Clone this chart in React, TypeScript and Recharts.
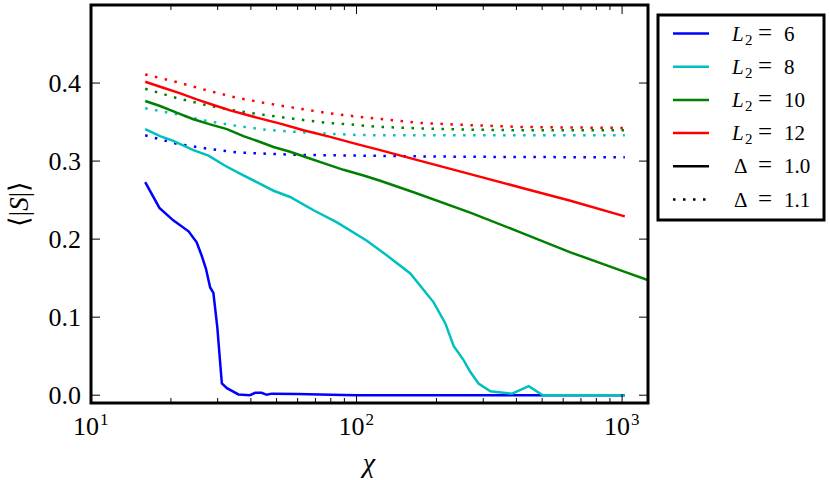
import React from 'react';
import { LineChart, Line, XAxis, YAxis } from 'recharts';

const W = 830;
const H = 480;
const PLOT_LEFT = 91;
const PLOT_TOP = 5;
const PLOT_RIGHT = 648;
const PLOT_BOTTOM = 403;
const PW = PLOT_RIGHT - PLOT_LEFT;
const PH = PLOT_BOTTOM - PLOT_TOP;
const FONT = "'Liberation Serif', 'Times New Roman', serif";
const TXT = { fontFamily: FONT };

const X_DOMAIN: [number, number] = [10, 1252];
const Y_DOMAIN: [number, number] = [-0.01, 0.5];
const X_MAJOR = [10, 100, 1000];
const X_MAJOR_EXP = ['1', '2', '3'];
const X_MINOR = [20, 30, 40, 50, 60, 70, 80, 90, 200, 300, 400, 500, 600, 700, 800, 900];
const Y_TICKS = [0, 0.1, 0.2, 0.3, 0.4];
const Y_TICK_LABELS = ['0.0', '0.1', '0.2', '0.3', '0.4'];

// Δ = 1.0 (solid)
const chiL6 = [16, 18.1, 20.4, 23.3, 25.0, 26.1, 27.1, 28.1, 28.9, 29.9, 31.1, 32.5, 35.9, 39.7, 41.5, 43.9, 45.9, 47.9, 60, 80, 100, 200, 500, 1024];
const sL6 = [0.273, 0.240, 0.224, 0.210, 0.196, 0.179, 0.162, 0.138, 0.131, 0.087, 0.015, 0.009, 0.001, 0.0, 0.003, 0.003, 0.0005, 0.002, 0.0015, 0.0005, 0, 0, 0, 0];

const chiL8 = [16, 18.2, 20.4, 24.3, 27.7, 32.0, 36.4, 42.1, 48.7, 56.2, 68.9, 84.4, 109.4, 130.2, 159.4, 195.1, 216, 232, 253, 268, 288, 319, 385, 445, 503, 1024];
const sL8 = [0.341, 0.332, 0.326, 0.314, 0.307, 0.294, 0.284, 0.273, 0.262, 0.254, 0.237, 0.2215, 0.198, 0.179, 0.156, 0.119, 0.092, 0.063, 0.045, 0.030, 0.015, 0.005, 0.002, 0.0115, 0.0, 0.0];

const chiL10 = [16, 18.2, 21.0, 24.3, 28.1, 32.5, 37.5, 42.1, 48.7, 56.2, 65.0, 75.1, 89.3, 106.3, 122.8, 164, 268, 414, 639, 1024, 1500];
const sL10 = [0.377, 0.3706, 0.362, 0.3536, 0.347, 0.341, 0.332, 0.326, 0.318, 0.312, 0.3046, 0.2974, 0.2888, 0.2815, 0.2748, 0.26, 0.234, 0.2087, 0.1831, 0.158, 0.138];

const chiL12 = [16, 18.7, 21.7, 25.0, 28.9, 33.4, 42.1, 51.6, 63.1, 79.6, 100.3, 122.8, 173.9, 268, 414, 639, 1024];
const sL12 = [0.4017, 0.394, 0.3868, 0.379, 0.3719, 0.365, 0.3557, 0.348, 0.3395, 0.331, 0.3217, 0.314, 0.3003, 0.2833, 0.2662, 0.2492, 0.2292];

// Δ = 1.1 (dotted)
const chiD = [16, 21.0, 27.3, 35.5, 45.9, 59.6, 77.3, 100.3, 118, 171, 268, 414, 639, 1024];
const dL6 = [0.333, 0.3222, 0.316, 0.311, 0.3095, 0.308, 0.3075, 0.307, 0.3067, 0.306, 0.3055, 0.3052, 0.305, 0.305];
const dL8 = [0.3677, 0.36, 0.3514, 0.345, 0.34, 0.3374, 0.3352, 0.3335, 0.333, 0.3331, 0.333, 0.333, 0.333, 0.333];
const dL10 = [0.3927, 0.3808, 0.3715, 0.3642, 0.3587, 0.3536, 0.349, 0.3463, 0.344, 0.342, 0.3403, 0.3395, 0.3395, 0.3395];
const dL12 = [0.411, 0.4013, 0.3907, 0.381, 0.374, 0.3677, 0.3617, 0.357, 0.3544, 0.349, 0.346, 0.3438, 0.343, 0.3425];

const L2_VALUES = ['6', '8', '10', '12'];
const L2_COLORS = ['#0000ff', '#00bfbf', '#008000', '#ff0000'];
const DELTA_VALUES = ['1.0', '1.1'];

const zip = (xs: number[], ys: number[]) => xs.map((x, i) => ({ x, y: ys[i] }));

const SERIES = [
  { key: 's6', data: zip(chiL6, sL6), color: L2_COLORS[0], dotted: false },
  { key: 'd6', data: zip(chiD, dL6), color: L2_COLORS[0], dotted: true },
  { key: 's8', data: zip(chiL8, sL8), color: L2_COLORS[1], dotted: false },
  { key: 'd8', data: zip(chiD, dL8), color: L2_COLORS[1], dotted: true },
  { key: 's10', data: zip(chiL10, sL10), color: L2_COLORS[2], dotted: false },
  { key: 'd10', data: zip(chiD, dL10), color: L2_COLORS[2], dotted: true },
  { key: 's12', data: zip(chiL12, sL12), color: L2_COLORS[3], dotted: false },
  { key: 'd12', data: zip(chiD, dL12), color: L2_COLORS[3], dotted: true },
];

const LW = 2.5;
const DOT = '2.5 7.5';

const XTick = (props: any) => {
  const { x, y, payload } = props;
  const v = payload.value;
  const mi = X_MAJOR.indexOf(v);
  const major = mi >= 0;
  const len = major ? 9 : 5;
  return (
    <g>
      <line x1={x} y1={y} x2={x} y2={y - len} stroke="#000" strokeWidth={1} />
      <line x1={x} y1={y - PH} x2={x} y2={y - PH + len} stroke="#000" strokeWidth={1} />
      {major && (
        <text x={x - 18} y={y + 32} style={TXT} fontSize={26} fill="#000">
          10
          <tspan fontSize={17} dy={-10} dx={1}>{X_MAJOR_EXP[mi]}</tspan>
        </text>
      )}
    </g>
  );
};

const YTick = (props: any) => {
  const { x, y, payload } = props;
  const i = Y_TICKS.indexOf(payload.value);
  return (
    <g>
      <line x1={x} y1={y} x2={x + 9} y2={y} stroke="#000" strokeWidth={1} />
      <line x1={x + PW} y1={y} x2={x + PW - 9} y2={y} stroke="#000" strokeWidth={1} />
      <text x={x - 10} y={y + 8.5} textAnchor="end" style={TXT} fontSize={26} fill="#000">
        {Y_TICK_LABELS[i]}
      </text>
    </g>
  );
};

const LEG_X = 658;
const LEG_Y = 15;
const LEG_W = 166;
const LEG_H = 205;
const ROW0 = 33.5;
const ROW_STEP = 33.2;

const Legend = () => {
  const rows: any[] = [];
  L2_VALUES.forEach((v, i) => {
    const cy = ROW0 + i * ROW_STEP;
    rows.push(
      <g key={'l' + i}>
        <line x1={673} y1={cy} x2={709} y2={cy} stroke={L2_COLORS[i]} strokeWidth={LW} />
        <text x={732} y={cy + 7} style={TXT} fontSize={21} fontStyle="italic" fill="#000">L</text>
        <text x={745} y={cy + 11} style={TXT} fontSize={15} fill="#000">2</text>
        <text x={765} y={cy + 7} textAnchor="middle" style={TXT} fontSize={25} fill="#000">=</text>
        <text x={784} y={cy + 7} style={TXT} fontSize={21} fill="#000">{v}</text>
      </g>
    );
  });
  DELTA_VALUES.forEach((v, j) => {
    const i = L2_VALUES.length + j;
    const cy = ROW0 + i * ROW_STEP;
    rows.push(
      <g key={'d' + j}>
        <line x1={673} y1={cy} x2={709} y2={cy} stroke="#000" strokeWidth={LW} strokeDasharray={j === 1 ? DOT : undefined} />
        <text x={734} y={cy + 7} style={TXT} fontSize={21} fill="#000">Δ</text>
        <text x={765} y={cy + 7} textAnchor="middle" style={TXT} fontSize={25} fill="#000">=</text>
        <text x={784} y={cy + 7} style={TXT} fontSize={21} fill="#000">{v}</text>
      </g>
    );
  });
  return (
    <g>
      <rect x={LEG_X} y={LEG_Y} width={LEG_W} height={LEG_H} fill="#fff" stroke="#000" strokeWidth={3} />
      {rows}
    </g>
  );
};

export default function App() {
  return (
    <div style={{ position: 'absolute', left: 0, top: 0, width: W, height: H, background: '#fff', fontFamily: FONT }}>
      <LineChart width={W} height={H} margin={{ top: PLOT_TOP, right: W - PLOT_RIGHT, bottom: 0, left: 0 }}>
        <XAxis
          dataKey="x"
          type="number"
          scale="log"
          domain={X_DOMAIN}
          allowDataOverflow
          ticks={[...X_MAJOR, ...X_MINOR]}
          interval={0}
          tickSize={0}
          tickMargin={0}
          tickLine={false}
          axisLine={false}
          tick={<XTick />}
          height={H - PLOT_BOTTOM}
        />
        <YAxis
          type="number"
          domain={Y_DOMAIN}
          allowDataOverflow
          ticks={Y_TICKS}
          interval={0}
          tickSize={0}
          tickMargin={0}
          tickLine={false}
          axisLine={false}
          tick={<YTick />}
          width={PLOT_LEFT}
        />
        {SERIES.map((s) => (
          <Line
            key={s.key}
            data={s.data}
            dataKey="y"
            type="linear"
            stroke={s.color}
            strokeWidth={LW}
            strokeDasharray={s.dotted ? DOT : undefined}
            dot={false}
            activeDot={false}
            isAnimationActive={false}
          />
        ))}
      </LineChart>
      <svg width={W} height={H} style={{ position: 'absolute', left: 0, top: 0, pointerEvents: 'none' }}>
        <rect x={PLOT_LEFT} y={PLOT_TOP} width={PW} height={PH} fill="none" stroke="#000" strokeWidth={3} />
        <Legend />
        <text x={369} y={472} textAnchor="middle" style={TXT} fontSize={28} fontStyle="italic" fill="#000">χ</text>
        <text
          x={19}
          y={204}
          transform="rotate(-90, 19, 204)"
          textAnchor="middle"
          dominantBaseline="central"
          style={TXT}
          fontSize={27}
          fill="#000"
        >
          ⟨|<tspan fontStyle="italic">S</tspan>|⟩
        </text>
      </svg>
    </div>
  );
}
